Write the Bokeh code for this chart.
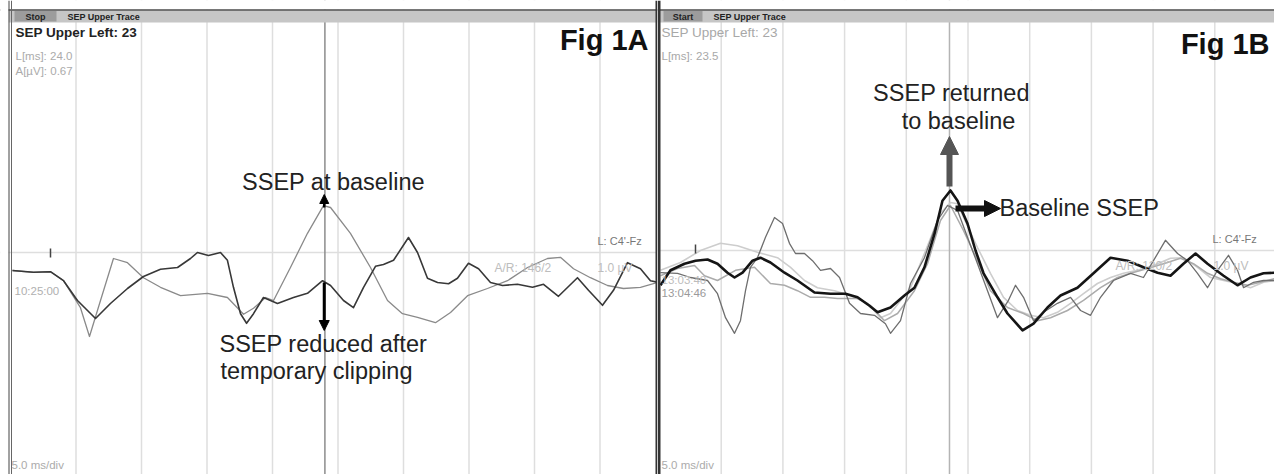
from bokeh.plotting import figure
from bokeh.models import Range1d, Span, Label, Arrow, NormalHead, BoxAnnotation
from bokeh.layouts import row
from bokeh.embed import file_html
from bokeh.resources import INLINE

# ---------------- data (time in ms, amplitude in uV) ----------------
grid_ms = [5, 10, 15, 20, 25, 30, 35, 40, 45]

# Fig 1A: baseline SSEP (light trace)
a_base_t = [0.15, 1.76, 3.05, 4.05, 5.34, 6.03, 6.87, 7.86, 8.93, 10.15, 11.45, 12.98, 15.04, 16.56,
            17.79, 18.55, 19.47, 20.08, 21.37, 22.67, 23.89, 24.43, 25.95, 27.48, 28.78, 29.92, 31.07,
            32.44, 33.59, 34.89, 36.41, 37.94, 39.47, 40.99, 41.98, 42.98, 44.27, 45.57, 46.79, 48.09, 49.39]
a_base_v = [-0.30, -0.33, -0.32, -0.47, -0.92, -1.40, -0.80, -0.10, -0.17, -0.42, -0.58, -0.72, -0.68, -0.75,
            -1.03, -0.93, -0.75, -0.80, -0.25, 0.32, 0.78, 0.75, 0.32, -0.25, -0.80, -1.02, -1.08,
            -1.17, -1.00, -0.72, -0.60, -0.47, -0.25, -0.10, -0.08, -0.27, -0.42, -0.55, -0.60, -0.58, -0.50]

# Fig 1A: SSEP reduced after temporary clipping (dark trace)
a_red_t = [0.15, 1.76, 3.05, 4.05, 5.11, 6.49, 7.63, 8.93, 10.15, 11.45, 12.75, 13.74, 14.27, 15.11, 16.03,
           16.56, 17.02, 17.56, 18.02, 18.55, 19.31, 20.38, 21.60, 22.67, 23.82, 24.43, 25.42, 26.18, 26.95,
           27.86, 28.47, 29.24, 30.38, 31.07, 31.83, 32.60, 33.44, 34.12, 34.96, 35.73, 36.64, 37.56, 38.70,
           39.85, 40.69, 41.83, 43.28, 44.12, 45.19, 46.03, 47.10, 48.09, 48.85, 49.47]
a_red_v = [-0.30, -0.33, -0.32, -0.47, -0.80, -1.10, -0.85, -0.60, -0.40, -0.28, -0.25, -0.10, 0.00, -0.05, 0.00,
           -0.13, -0.58, -1.02, -1.18, -1.02, -0.75, -0.85, -0.75, -0.68, -0.47, -0.55, -0.80, -0.92, -0.58,
           -0.23, -0.20, -0.13, 0.25, 0.00, -0.43, -0.50, -0.52, -0.43, -0.18, -0.27, -0.50, -0.55, -0.53,
           -0.58, -0.53, -0.73, -0.42, -0.63, -0.88, -0.63, -0.17, -0.27, -0.47, -0.50]

# Fig 1B: thick black trace
b1_t = [0.08, 0.89, 2.03, 2.92, 3.89, 4.70, 5.51, 6.08, 6.73, 7.54, 8.18, 8.99, 10.13, 11.18, 12.56,
        13.86, 15.07, 16.05, 17.02, 17.67, 18.72, 19.85, 20.66, 21.47, 22.29, 22.93, 23.58, 24.15, 24.96,
        25.61, 26.26, 27.39, 28.20, 29.42, 30.31, 31.44, 32.50, 33.87, 35.17, 36.55, 37.93, 39.22, 40.36,
        41.41, 42.46, 43.44, 44.41, 45.71, 46.84, 47.89, 48.95, 49.84]
b1_v = [-0.58, -0.33, -0.22, -0.17, -0.15, -0.22, -0.37, -0.45, -0.37, -0.17, -0.12, -0.20, -0.37, -0.50, -0.70,
        -0.72, -0.72, -0.78, -0.92, -1.03, -0.95, -0.75, -0.62, -0.28, 0.28, 0.83, 1.00, 0.83, 0.45,
        0.00, -0.38, -0.78, -1.05, -1.33, -1.22, -0.95, -0.75, -0.62, -0.38, -0.12, -0.17, -0.28, -0.37,
        -0.42, -0.22, -0.05, -0.22, -0.42, -0.58, -0.45, -0.38, -0.37]

# Fig 1B: thin mid-grey trace
b2_t = [0.08, 1.46, 2.51, 3.89, 4.70, 5.35, 6.08, 6.56, 6.97, 7.37, 7.94, 8.59, 9.32, 9.97, 10.53,
        11.02, 11.75, 12.40, 13.05, 13.86, 14.59, 15.40, 16.29, 17.42, 18.31, 18.72, 19.53, 20.34, 21.47,
        22.53, 23.34, 24.15, 24.96, 25.77, 26.58, 27.39, 28.28, 28.85, 29.50, 30.31, 31.12, 32.25, 33.31,
        34.12, 34.93, 35.74, 36.79, 38.17, 39.22, 40.03, 41.00, 41.98, 42.79, 43.60, 44.41, 45.22, 46.11,
        46.84, 47.33, 48.14, 48.95, 49.84]
b2_v = [-0.37, -0.38, -0.45, -0.50, -0.72, -1.12, -1.38, -1.17, -0.67, -0.28, -0.12, 0.22, 0.55, 0.45, 0.12,
        -0.05, -0.05, -0.17, -0.33, -0.30, -0.45, -0.88, -1.05, -1.08, -1.22, -1.38, -1.17, -0.55, -0.12,
        0.50, 0.75, 0.67, 0.22, -0.22, -0.67, -1.12, -0.83, -0.58, -0.78, -1.17, -1.03, -0.88, -0.78,
        -1.00, -1.08, -0.78, -0.50, -0.38, -0.45, -0.17, 0.17, -0.05, -0.17, -0.38, -0.62, -0.33, -0.08,
        -0.33, -0.62, -0.53, -0.50, -0.50]

# Fig 1B: lightest grey trace
b3_t = [0.08, 1.70, 3.32, 4.94, 6.32, 7.94, 9.56, 10.62, 11.75, 12.80, 14.18, 15.48, 16.86, 17.91, 18.72,
        20.34, 21.47, 22.77, 23.58, 24.15, 24.64, 25.77, 26.82, 27.88, 29.01, 30.06, 31.12, 32.25, 33.31,
        34.36, 35.49, 36.55, 37.60, 38.74, 40.03, 41.41, 42.46, 43.60, 44.65, 45.71, 46.84, 47.89, 48.95, 49.84]
b3_v = [-0.33, -0.20, 0.00, 0.12, 0.08, -0.03, -0.12, -0.28, -0.50, -0.62, -0.67, -0.75, -0.88, -1.12, -1.05,
        -0.62, -0.05, 0.62, 0.80, 0.78, 0.55, 0.05, -0.38, -0.78, -1.00, -1.08, -1.12, -1.03, -0.88,
        -0.72, -0.55, -0.45, -0.38, -0.33, -0.25, -0.13, -0.12, -0.28, -0.45, -0.50, -0.55, -0.62, -0.53, -0.50]

# Fig 1B: light grey trace
b4_t = [0.08, 1.46, 2.84, 3.65, 4.70, 6.16, 7.70, 8.99, 10.13, 11.18, 12.24, 13.37, 14.42, 16.05, 17.10,
        18.23, 19.29, 20.66, 21.72, 22.77, 23.58, 24.64, 25.77, 26.82, 28.20, 29.50, 30.63, 31.69, 33.06,
        34.36, 35.74, 37.12, 38.17, 39.55, 40.84, 42.22, 43.27, 44.41, 45.46, 46.52, 47.65, 48.70, 49.84]
b4_v = [-0.42, -0.30, -0.25, -0.42, -0.50, -0.33, -0.28, -0.55, -0.58, -0.67, -0.78, -0.78, -0.80, -0.80, -0.92,
        -1.17, -1.05, -0.67, -0.22, 0.50, 0.75, 0.33, -0.17, -0.67, -0.95, -1.05, -1.17, -1.12, -1.00,
        -0.83, -0.62, -0.45, -0.38, -0.30, -0.22, -0.13, -0.22, -0.38, -0.47, -0.53, -0.58, -0.53, -0.47]

cursor_a = 24.0
cursor_b = 23.5

FONT = "Liberation Sans"
PAGE_H = 474


# ---------------- helpers for annotation placement (page pixels -> data) ----------------
def A_x(px):
    return (px - 10) / 13.1


def A_y(py):
    return (252 - py) / 60.0


def B_x(px):
    return (px - 659) / 12.34


def B_y(py):
    return (250 - py) / 60.0


def make_fig(fx, fy, left, right):
    p = figure(width=right - left, height=PAGE_H, x_range=Range1d(fx(left), fx(right)),
               y_range=Range1d(fy(PAGE_H), fy(0)), output_backend="svg",
               toolbar_location=None, min_border=0, x_axis_location=None,
               y_axis_location=None, background_fill_color="white",
               border_fill_color="white")
    p.outline_line_color = None
    p.grid.visible = False
    return p


def add_label(p, x, y, text, size, color, style="normal", align="left", font=FONT):
    p.add_layout(Label(x=x, y=y, text=text, text_font=font, text_font_size=size,
                       text_color=color, text_font_style=style, text_align=align,
                       text_baseline="middle"))


def add_frame(p, fx, fy, left, right, cursor, cursor_color, tick_x, tick_y, box, box_text):
    for g in grid_ms:
        p.add_layout(Span(location=g, dimension="height", line_color="#dedede",
                          line_width=1.5, level="underlay"))
    p.add_layout(Span(location=0, dimension="width", line_color="#dedede",
                      line_width=1.5, level="underlay"))
    p.add_layout(Span(location=cursor, dimension="height", line_color=cursor_color,
                      line_width=1.5, level="underlay"))
    # white page margin at top
    p.add_layout(BoxAnnotation(left=fx(left), right=fx(right), top=fy(0), bottom=fy(9),
                               fill_color="white", fill_alpha=1.0, line_alpha=0))
    # header bar
    p.add_layout(BoxAnnotation(left=fx(max(left, 8)), right=fx(right), top=fy(9), bottom=fy(22),
                               fill_color="#c6c6c6", fill_alpha=1.0, line_alpha=0))
    p.add_layout(BoxAnnotation(left=fx(box[0]), right=fx(box[1]), top=fy(10.5), bottom=fy(21),
                               fill_color="#9c9c9c", fill_alpha=1.0, line_alpha=0))
    p.add_layout(Span(location=fy(9.5), dimension="width", line_color="#555555", line_width=1.5))
    add_label(p, fx((box[0] + box[1]) / 2), fy(16), box_text, "9px", "#222222", "bold", "center")
    add_label(p, fx(box[1] + 11), fy(16), "SEP Upper Trace", "9px", "#222222", "bold")
    # small tick mark
    p.add_layout(Arrow(start=None, end=None, x_start=fx(tick_x), y_start=fy(tick_y[0]),
                       x_end=fx(tick_x), y_end=fy(tick_y[1]), line_color="#444444", line_width=1.5))


# ================= Fig 1A =================
pA = make_fig(A_x, A_y, 0, 657)
add_frame(pA, A_x, A_y, 0, 657, cursor_a, "#8c8c8c", 50, (248, 257), (14, 56), "Stop")
pA.line(a_base_t, a_base_v, line_color="#8a8a8a", line_width=1.3, line_join="round")
pA.line(a_red_t, a_red_v, line_color="#383838", line_width=1.6, line_join="round")

# left page margin + borders
pA.add_layout(BoxAnnotation(left=A_x(0), right=A_x(8), top=A_y(0), bottom=A_y(PAGE_H),
                            fill_color="white", fill_alpha=1.0, line_alpha=0))
pA.add_layout(Span(location=A_x(8.5), dimension="height", line_color="#444444", line_width=1))
pA.add_layout(Span(location=A_x(11), dimension="height", line_color="#666666", line_width=1))
pA.add_layout(Span(location=A_x(656), dimension="height", line_color="#333333", line_width=2))

add_label(pA, A_x(15), A_y(31.5), "SEP Upper Left: 23", "13.5px", "#222222", "bold")
add_label(pA, A_x(15), A_y(55), "L[ms]: 24.0", "11.5px", "#ababab")
add_label(pA, A_x(15), A_y(70), "A[µV]: 0.67", "11.5px", "#ababab")
add_label(pA, A_x(648), A_y(39), "Fig 1A", "29px", "#111111", "bold", "right")
add_label(pA, A_x(597), A_y(240), "L: C4'-Fz", "11px", "#777777")
add_label(pA, A_x(494), A_y(267), "A/R: 146/2", "12px", "#bdbdbd")
add_label(pA, A_x(597), A_y(267), "1.0 µV", "12px", "#bdbdbd")
add_label(pA, A_x(14), A_y(290), "10:25:00", "11.5px", "#b0b0b0")
add_label(pA, A_x(11), A_y(464), "5.0 ms/div", "11.5px", "#ababab")

add_label(pA, A_x(333), A_y(181), "SSEP at baseline", "23.5px", "#222222", align="center")
add_label(pA, A_x(219), A_y(343), "SSEP reduced after", "23.5px", "#222222")
add_label(pA, A_x(220), A_y(370), "temporary clipping", "23.5px", "#222222")

pA.add_layout(Arrow(end=NormalHead(size=9, fill_color="black", line_color="black"),
                    x_start=cursor_a - 0.05, y_start=A_y(207), x_end=cursor_a - 0.05, y_end=A_y(194),
                    line_width=2.5, line_color="black"))
pA.add_layout(Arrow(end=NormalHead(size=10, fill_color="black", line_color="black"),
                    x_start=cursor_a - 0.05, y_start=A_y(282), x_end=cursor_a - 0.05, y_end=A_y(330),
                    line_width=3, line_color="black"))

# ================= Fig 1B =================
pB = make_fig(B_x, B_y, 657, 1274)
add_frame(pB, B_x, B_y, 657, 1274, cursor_b, "#b4b4b4", 695, (244, 253), (663, 702), "Start")
pB.line(b3_t, b3_v, line_color="#cdcdcd", line_width=1.6, line_join="round")
pB.line(b4_t, b4_v, line_color="#ababab", line_width=1.5, line_join="round")
pB.line(b2_t, b2_v, line_color="#6e6e6e", line_width=1.3, line_join="round")
pB.line(b1_t, b1_v, line_color="#151515", line_width=2.6, line_join="round")

pB.add_layout(Span(location=B_x(658.5), dimension="height", line_color="#333333", line_width=3))

add_label(pB, B_x(661), B_y(31.5), "SEP Upper Left: 23", "13.5px", "#a8a8a8")
add_label(pB, B_x(661), B_y(55), "L[ms]: 23.5", "11.5px", "#a8a8a8")
add_label(pB, B_x(1269), B_y(43), "Fig 1B", "29px", "#111111", "bold", "right")
add_label(pB, B_x(1212), B_y(238), "L: C4'-Fz", "11px", "#777777")
add_label(pB, B_x(1115), B_y(265), "A/R: 120/2", "12px", "#bdbdbd")
add_label(pB, B_x(1213), B_y(265), "1.0 µV", "12px", "#bdbdbd")
add_label(pB, B_x(661), B_y(279), "13:03:40", "11.5px", "#bdbdbd")
add_label(pB, B_x(661), B_y(292), "13:04:46", "11.5px", "#9a9a9a")
add_label(pB, B_x(661), B_y(464), "5.0 ms/div", "11.5px", "#ababab")

add_label(pB, B_x(951), B_y(92), "SSEP returned", "23.5px", "#222222", align="center")
add_label(pB, B_x(958), B_y(120), "to baseline", "23.5px", "#222222", align="center")
add_label(pB, B_x(999), B_y(207), "Baseline SSEP", "23.5px", "#222222")

pB.add_layout(Arrow(end=NormalHead(size=18, fill_color="#555555", line_color="#555555"),
                    x_start=cursor_b, y_start=B_y(186), x_end=cursor_b, y_end=B_y(136),
                    line_width=6, line_color="#555555"))
pB.add_layout(Arrow(end=NormalHead(size=16, fill_color="#111111", line_color="#111111"),
                    x_start=B_x(955), y_start=B_y(208), x_end=B_x(1000), y_end=B_y(208),
                    line_width=6, line_color="#111111"))

layout = row(pA, pB)
open("out.html", "w").write(file_html(layout, INLINE))
